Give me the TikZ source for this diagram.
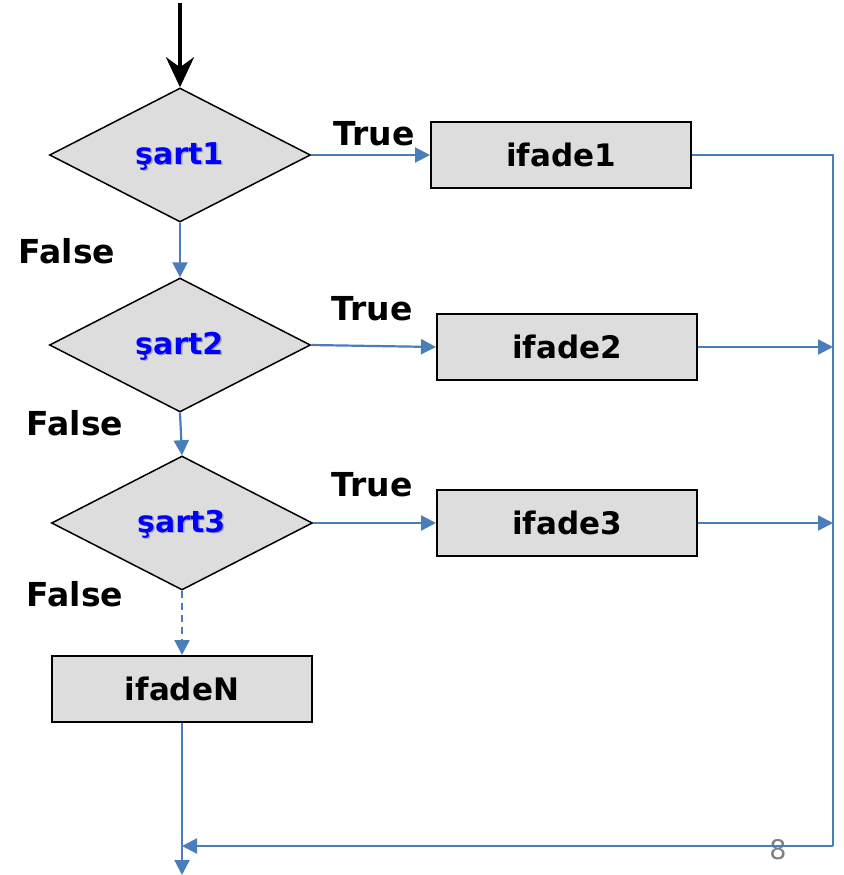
\documentclass[tikz,border=0pt]{standalone}
\usepackage{fontspec}
\setmainfont{DejaVu Sans}
\usetikzlibrary{shapes.geometric,arrows.meta}
\definecolor{lineblue}{HTML}{4A7EBB}
\definecolor{boxgray}{HTML}{DDDDDD}
\definecolor{condblue}{HTML}{0000FF}
\tikzset{
  cond/.style={diamond, draw=black, line width=1.5pt, fill=boxgray, minimum width=261pt, minimum height=134pt, inner sep=0pt, aspect=2},
  stmt/.style={rectangle, draw=black, line width=2pt, fill=boxgray, minimum width=260pt, minimum height=66pt, inner sep=0pt, font=\fontsize{31}{36}\selectfont\bfseries},
  conn/.style={draw=lineblue, line width=2.2pt, -{Triangle[length=15pt,width=15pt]}},
  plain/.style={draw=lineblue, line width=2.2pt},
  lbl/.style={font=\fontsize{33}{38}\selectfont\bfseries, inner sep=0pt},
  condtxt/.style={font=\fontsize{30}{34}\selectfont\bfseries, inner sep=0pt}
}
\newcommand{\shtext}[1]{\tikz[baseline=(t.base)]{\node[inner sep=0pt, text=gray!70] at (1.5pt,-1.5pt) {#1};\node[inner sep=0pt, text=condblue] (t) at (0,0) {#1};}}
\begin{document}
\begin{tikzpicture}[x=1pt,y=-1pt]
\useasboundingbox (0,0) rectangle (843,875);
% nodes
\node[cond] (c1) at (180,155) {};
\node[cond] (c2) at (180,345) {};
\node[cond] (c3) at (182,523) {};
\node[condtxt] (t1) at (180,157) {\shtext{şart1}};
\node[condtxt] (t2) at (180,347) {\shtext{şart2}};
\node[condtxt] (t3) at (182,525) {\shtext{şart3}};
\node[stmt] (s1) at (561,155) {ifade1};
\node[stmt] (s2) at (567,347) {ifade2};
\node[stmt] (s3) at (567,523) {ifade3};
\node[stmt] (sN) at (182,689) {ifadeN};
% labels
\node[lbl] (tr1) at (374,134) {True};
\node[lbl] (tr2) at (372,309) {True};
\node[lbl] (tr3) at (372,485) {True};
\node[lbl] (f1) at (67,251) {False};
\node[lbl] (f2) at (75,423) {False};
\node[lbl] (f3) at (75,594) {False};
\node[font=\fontsize{27}{30}\selectfont, text=gray, inner sep=0pt] (pg) at (778,850) {8};
% coordinates
\coordinate (start) at (180,3);
\coordinate (r1) at (833,155);
\coordinate (r2) at (833,347);
\coordinate (r3) at (833,523);
\coordinate (rb) at (833,846);
\coordinate (jb) at (182,846);
\coordinate (endp) at (182,875);
% connectors
\draw[line width=4.5pt, -{Stealth[length=30pt,width=28pt,inset=10pt]}] (start) -- (c1.north);
\draw[conn] (c1.east) -- (s1.west);
\draw[conn] (c2.east) -- (s2.west);
\draw[conn] (c3.east) -- (s3.west);
\draw[conn] (c1.south) -- (c2.north);
\draw[conn] (c2.south) -- (c3.north);
\draw[conn, dashed, dash pattern=on 7pt off 5pt] (c3.south) -- (sN.north);
\draw[plain] (s1.east) -- (r1) -- (rb);
\draw[conn] (s2.east) -- (r2);
\draw[conn] (s3.east) -- (r3);
\draw[conn] (rb) -- (jb);
\draw[conn] (sN.south) -- (endp);
\end{tikzpicture}
\end{document}
